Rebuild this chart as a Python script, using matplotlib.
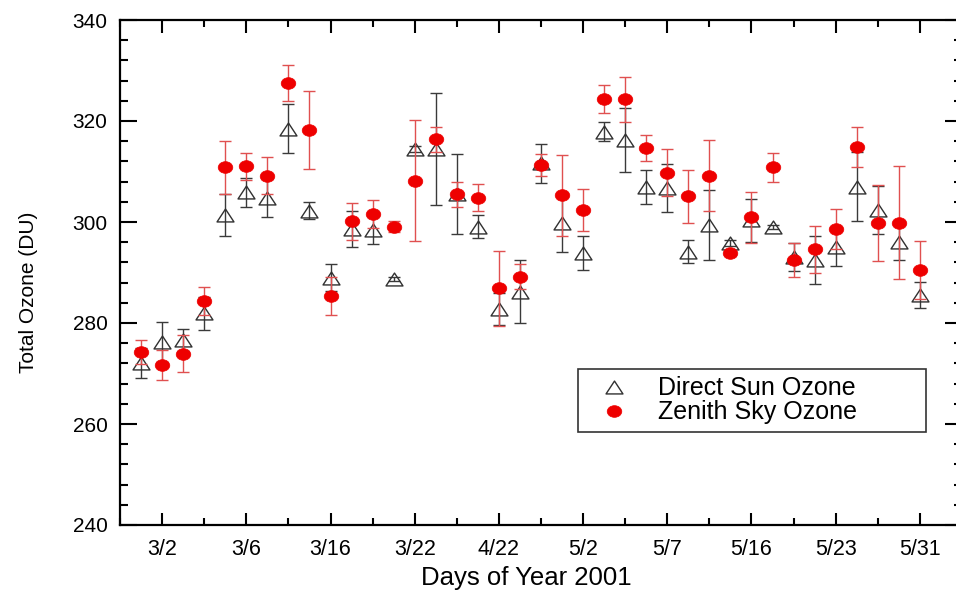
import numpy as np
import matplotlib
matplotlib.use('Agg')
import matplotlib.pyplot as plt
from matplotlib.path import Path
from matplotlib.transforms import Affine2D
from matplotlib.ticker import MultipleLocator

direct_sun = [272.1, 276.2, 276.6, 281.9, 301.4, 305.9, 304.7, 318.5, 302.2, 289.0,
              298.6, 298.4, 288.8, 314.4, 314.4, 305.5, 299.1, 282.8, 286.2, 311.6,
              299.9, 293.8, 317.9, 316.2, 306.9, 306.7, 294.1, 299.4, 295.8, 300.3,
              299.1, 293.1, 292.5, 295.1, 307.0, 302.4, 296.1, 285.5]
direct_err = [3.0, 3.9, 2.2, 3.3, 4.1, 2.9, 3.8, 4.9, 1.7, 2.6,
              3.6, 2.8, 0.4, 0.6, 11.1, 7.9, 2.3, 3.2, 6.2, 3.9,
              5.8, 3.4, 1.9, 6.3, 3.4, 4.7, 2.3, 6.9, 0.6, 4.2,
              0.4, 2.8, 4.7, 3.8, 6.8, 4.7, 3.7, 2.6]
zenith_sky = [274.3, 271.7, 273.9, 284.4, 310.8, 311.0, 309.2, 327.5, 318.2, 285.3,
              300.1, 301.6, 299.1, 308.2, 316.4, 305.5, 304.8, 286.9, 289.2, 311.3,
              305.3, 302.4, 324.4, 324.3, 314.6, 309.8, 305.1, 309.2, 293.9, 300.9,
              310.8, 292.5, 294.6, 298.6, 314.9, 299.8, 299.9, 290.5]
zenith_err = [2.4, 3.0, 3.7, 2.8, 5.2, 2.6, 3.7, 3.6, 7.8, 3.8,
              3.6, 2.7, 1.0, 12.0, 2.5, 2.5, 2.7, 7.4, 2.5, 2.1,
              8.0, 4.1, 2.8, 4.5, 2.6, 4.6, 5.2, 7.0, 0.6, 5.1,
              2.8, 3.4, 4.6, 4.0, 4.0, 7.5, 11.2, 5.7]
day_labels = ['3/2', '3/6', '3/16', '3/22', '4/22', '5/2', '5/7', '5/16', '5/23', '5/31']

x = np.arange(1, len(direct_sun) + 1)

plt.rcParams.update({'font.family': ['Liberation Sans', 'DejaVu Sans']})

# slightly squashed markers (the original image is stretched horizontally)
tri = Path([(-1, -0.76), (1, -0.76), (0, 0.76), (-1, -0.76)],
           [Path.MOVETO, Path.LINETO, Path.LINETO, Path.CLOSEPOLY])
ell = Path.unit_circle().transformed(Affine2D().scale(1, 0.8))

fig = plt.figure(figsize=(9.56, 5.97), dpi=100)
ax = fig.add_axes([120 / 956, 72 / 597, 842 / 956, 505 / 597])

ax.errorbar(x, direct_sun, yerr=direct_err, fmt='none', ecolor='#3a3a3a',
            elinewidth=1, capsize=4.2, capthick=1, zorder=2)
h1, = ax.plot(x, direct_sun, ls='none', marker=tri, ms=12.2, mfc='none',
              mec='#303030', mew=1, zorder=3, label='Direct Sun Ozone')
ax.errorbar(x, zenith_sky, yerr=zenith_err, fmt='none', ecolor='#e05050',
            elinewidth=1, capsize=4.2, capthick=1, zorder=4)
h2, = ax.plot(x, zenith_sky, ls='none', marker=ell, ms=10.5, mfc='#ee0000',
              mec='#ee0000', mew=0.5, zorder=5, label='Zenith Sky Ozone')

ax.set_xlim(0, 40)
ax.set_ylim(240, 340)
ax.set_xticks(x[1::4])
ax.set_xticklabels(day_labels)
ax.xaxis.set_minor_locator(MultipleLocator(2))
ax.yaxis.set_major_locator(MultipleLocator(20))
ax.yaxis.set_minor_locator(MultipleLocator(4))

for s in ax.spines.values():
    s.set_linewidth(1.6)
ax.tick_params(which='both', direction='in', top=True, right=True, width=1.5)
ax.tick_params(axis='y', which='major', length=12, labelsize=15, pad=9)
ax.tick_params(axis='y', which='minor', length=6)
ax.tick_params(axis='x', which='major', length=9, labelsize=15.5, pad=10)
ax.tick_params(axis='x', which='minor', length=5)

ax.set_ylabel('Total Ozone (DU)', fontsize=15)
ax.yaxis.set_label_coords(-0.0974, 0.46)
ax.set_xlabel('Days of Year 2001', fontsize=18.5)
ax.xaxis.set_label_coords(0.482, -0.082)

leg = ax.legend(handles=[h1, h2], loc='upper left', mode='expand',
                bbox_to_anchor=(0.544, 0.18, 0.413, 0.129), borderaxespad=0,
                fontsize=18, handlelength=2.3, handletextpad=0.6,
                labelspacing=0.0, borderpad=0.3, fancybox=False, framealpha=1)
leg.get_frame().set_edgecolor('#333333')
leg.get_frame().set_linewidth(1.2)

fig.savefig('out.png', dpi=100)
